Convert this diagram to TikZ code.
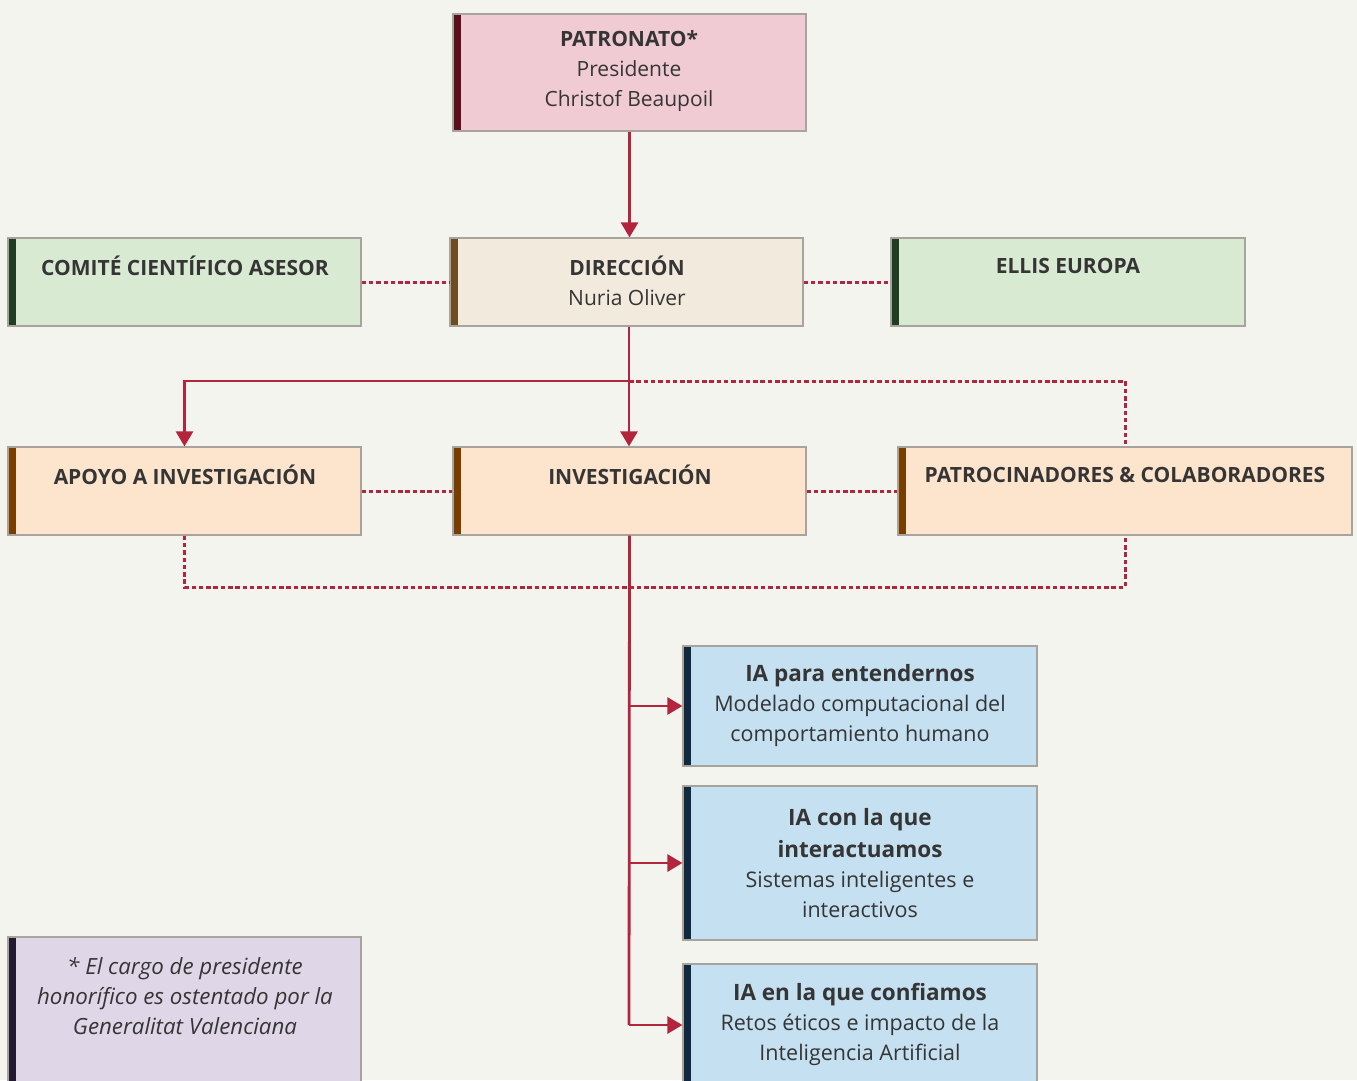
\documentclass[tikz,border=0pt]{standalone}
\usepackage{fontspec}
\setmainfont{Open Sans}
\usetikzlibrary{arrows.meta}
\definecolor{bg}{HTML}{F4F4EF}
\definecolor{ln}{HTML}{B3243D}
\definecolor{edge}{HTML}{A8A39C}
\definecolor{txt}{HTML}{353535}
\definecolor{pinkF}{HTML}{F1CBD3}\definecolor{pinkB}{HTML}{5A0F1E}
\definecolor{grnF}{HTML}{D9EAD3}\definecolor{grnB}{HTML}{1E3D21}
\definecolor{begF}{HTML}{F3EADE}\definecolor{begB}{HTML}{6E4D24}
\definecolor{orgF}{HTML}{FDE4CC}\definecolor{orgB}{HTML}{7A3D00}
\definecolor{bluF}{HTML}{C5E0F1}\definecolor{bluB}{HTML}{10293E}
\definecolor{purF}{HTML}{DFD6E8}\definecolor{purB}{HTML}{221A33}
\tikzset{
  orgbox/.style n args={4}{rectangle, draw=edge, line width=1.2pt, fill=#1, inner sep=0pt,
    minimum width=#3, minimum height=#4,
    path picture={\fill[#2] (path picture bounding box.north west) rectangle ([xshift=8pt]path picture bounding box.south west);}},
  lbl/.style={text=txt, align=center, inner sep=0pt, font=\fontsize{21}{30}\selectfont},
  blbl/.style={lbl, font=\fontsize{21}{30}\selectfont\bfseries},
  conn/.style={draw=ln, line width=2.8pt},
  arr/.style={conn, -{Triangle[width=17pt,length=15pt]}},
  dotl/.style={draw=ln, line width=3pt, dash pattern=on 4.5pt off 2.8pt},
}
\begin{document}
\begin{tikzpicture}[x=1pt,y=-1pt]
\fill[bg] (0,0) rectangle (1357,1080);
\useasboundingbox (0,0) rectangle (1357,1080);
\clip (0,0) rectangle (1357,1080);
% boxes
\node[orgbox={pinkF}{pinkB}{353pt}{117pt}] (PAT) at (629.5,72.5) {};
\node[orgbox={grnF}{grnB}{353pt}{88pt}] (COM) at (184.5,282) {};
\node[orgbox={begF}{begB}{353pt}{88pt}] (DIR) at (626.5,282) {};
\node[orgbox={grnF}{grnB}{354pt}{88pt}] (ELL) at (1068,282) {};
\node[orgbox={orgF}{orgB}{353pt}{88pt}] (APO) at (184.5,491) {};
\node[orgbox={orgF}{orgB}{353pt}{88pt}] (INV) at (629.5,491) {};
\node[orgbox={orgF}{orgB}{454pt}{88pt}] (PTC) at (1125,491) {};
\node[orgbox={bluF}{bluB}{354pt}{120pt}] (IA1) at (860,706) {};
\node[orgbox={bluF}{bluB}{354pt}{154pt}] (IA2) at (860,863) {};
\node[orgbox={bluF}{bluB}{354pt}{136pt}] (IA3) at (860,1032) {};
\node[orgbox={purF}{purB}{353pt}{163pt}] (FN) at (184.5,1018.5) {};
% texts
\node[lbl] (tPAT) at (629,71) {\textbf{PATRONATO*}\\Presidente\\Christof Beaupoil};
\node[blbl] (tCOM) at (185,266) {COMITÉ CIENTÍFICO ASESOR};
\node[lbl] (tDIR) at (627,281) {\textbf{DIRECCIÓN}\\Nuria Oliver};
\node[blbl] (tELL) at (1068,266) {ELLIS EUROPA};
\node[blbl] (tAPO) at (185,475) {APOYO A INVESTIGACIÓN};
\node[blbl] (tINV) at (630,475) {INVESTIGACIÓN};
\node[blbl] (tPTC) at (1125,475) {PATROCINADORES \& COLABORADORES};
\node[lbl, font=\fontsize{21.5}{30}\selectfont] (tIA1) at (860,706) {{\fontsize{22.5}{30}\selectfont\bfseries IA para entendernos}\\Modelado computacional del\\comportamiento humano};
\node[lbl, font=\fontsize{22.5}{32}\selectfont\bfseries] (tIA2a) at (860,833) {IA con la que\\interactuamos};
\node[lbl, font=\fontsize{21.5}{30}\selectfont] (tIA2b) at (860,894.5) {Sistemas inteligentes e\\interactivos};
\node[lbl, font=\fontsize{21.5}{30}\selectfont] (tIA3) at (860,1024) {{\fontsize{22.5}{30}\selectfont\bfseries IA en la que confiamos}\\Retos éticos e impacto de la\\Inteligencia Artificial};
\node[lbl, font=\fontsize{22.3}{30}\selectfont\itshape] (tFN) at (185,996) {* El cargo de presidente\\honorífico es ostentado por la\\Generalitat Valenciana};
% connectors
\coordinate (j1) at (629,381);
\coordinate (j2) at (629,587);
\draw[arr] (PAT.south) -- (PAT.south |- DIR.north);
\draw[dotl] (COM.east) -- (DIR.west);
\draw[dotl] (DIR.east) -- (ELL.west);
\draw[dotl] (j1) -| (PTC.north);
\draw[conn] (j1 |- DIR.south) -- (j1);
\draw[arr] (j1) -- (j1 |- INV.north);
\draw[arr] (j1) -| (APO.north);
\draw[dotl] (APO.east) -- (INV.west);
\draw[dotl] (INV.east) -- (PTC.west);
\draw[dotl] (APO.south) |- (j2) -| (PTC.south);
\coordinate (b1) at (629,706);
\coordinate (b2) at (629,863);
\coordinate (b3) at (629,1025);
\draw[conn] (INV.south) -- (b3);
\draw[arr] (b1) -- (IA1.west);
\draw[arr] (b2) -- (IA2.west);
\draw[arr] (b3) -- (IA3.west |- b3);
\end{tikzpicture}
\end{document}
